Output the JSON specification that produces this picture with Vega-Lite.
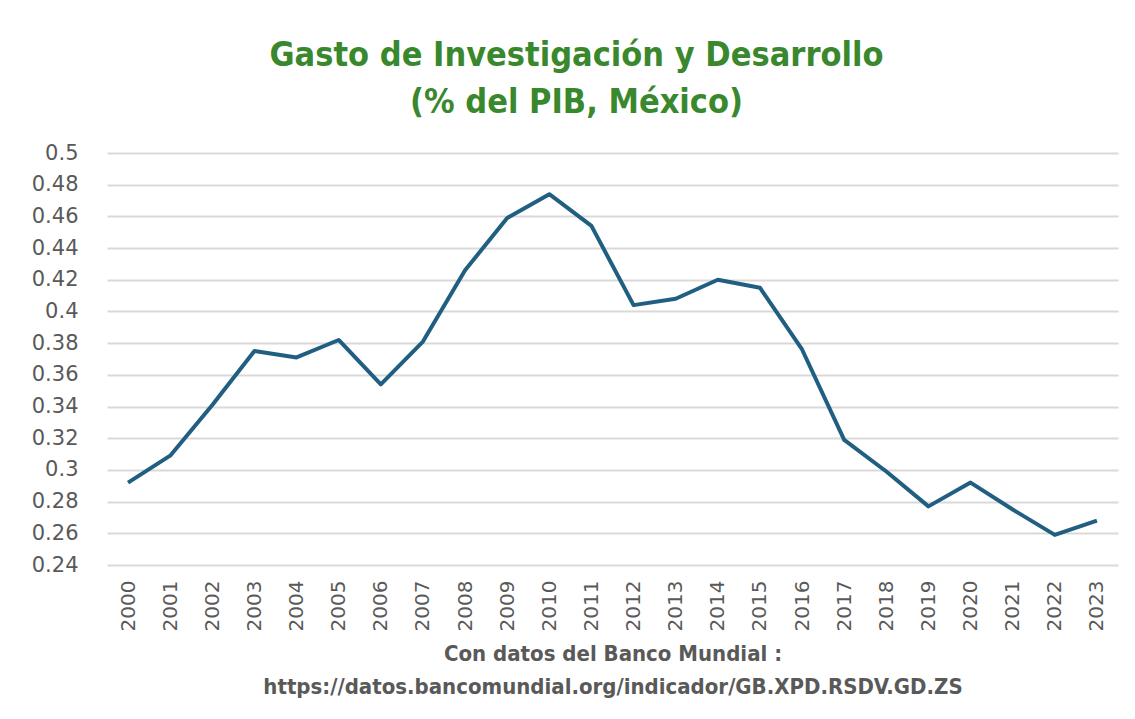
{
  "$schema": "https://vega.github.io/schema/vega-lite/v6.json",
  "width": 1011,
  "height": 412,
  "autosize": {"type": "none"},
  "padding": {"left": 107, "top": 153, "right": 16, "bottom": 154},
  "background": "white",
  "title": {
    "text": ["Gasto de Investigación y Desarrollo", "(% del PIB, México)"],
    "font": "DejaVu Sans Condensed",
    "fontSize": 34,
    "fontWeight": "bold",
    "color": "#3a882d",
    "lineHeight": 47,
    "anchor": "middle",
    "dx": -36,
    "offset": 22
  },
  "data": {
    "values": [
      {"year": "2000", "value": 0.292},
      {"year": "2001", "value": 0.309},
      {"year": "2002", "value": 0.341},
      {"year": "2003", "value": 0.375},
      {"year": "2004", "value": 0.371},
      {"year": "2005", "value": 0.382},
      {"year": "2006", "value": 0.354},
      {"year": "2007", "value": 0.381},
      {"year": "2008", "value": 0.426},
      {"year": "2009", "value": 0.459},
      {"year": "2010", "value": 0.474},
      {"year": "2011", "value": 0.454},
      {"year": "2012", "value": 0.404},
      {"year": "2013", "value": 0.408},
      {"year": "2014", "value": 0.420},
      {"year": "2015", "value": 0.415},
      {"year": "2016", "value": 0.376},
      {"year": "2017", "value": 0.319},
      {"year": "2018", "value": 0.299},
      {"year": "2019", "value": 0.277},
      {"year": "2020", "value": 0.292},
      {"year": "2021", "value": 0.275},
      {"year": "2022", "value": 0.259},
      {"year": "2023", "value": 0.268}
    ]
  },
  "mark": {"type": "line", "color": "#215f82", "strokeWidth": 4, "strokeJoin": "round"},
  "encoding": {
    "x": {
      "field": "year",
      "type": "ordinal",
      "scale": {"type": "point", "padding": 0.5},
      "axis": {
        "title": ["Con datos del Banco Mundial :", "https://datos.bancomundial.org/indicador/GB.XPD.RSDV.GD.ZS"],
        "titleFont": "DejaVu Sans Condensed",
        "titleFontSize": 22,
        "titleFontWeight": "bold",
        "titleColor": "#595959",
        "titleLineHeight": 33,
        "titlePadding": 13,
        "labelAngle": -90,
        "labelFont": "DejaVu Sans",
        "labelFontSize": 20,
        "labelColor": "#595959",
        "labelPadding": 15,
        "ticks": false,
        "domain": false,
        "grid": false
      }
    },
    "y": {
      "field": "value",
      "type": "quantitative",
      "scale": {"domain": [0.24, 0.5], "zero": false, "nice": false},
      "axis": {
        "title": null,
        "values": [0.24, 0.26, 0.28, 0.3, 0.32, 0.34, 0.36, 0.38, 0.4, 0.42, 0.44, 0.46, 0.48, 0.5],
        "format": "~g",
        "labelFont": "DejaVu Sans",
        "labelFontSize": 21,
        "labelColor": "#595959",
        "labelPadding": 29,
        "ticks": false,
        "domain": false,
        "grid": true,
        "gridColor": "#d9d9d9",
        "gridWidth": 2
      }
    }
  },
  "config": {"view": {"stroke": null}}
}
